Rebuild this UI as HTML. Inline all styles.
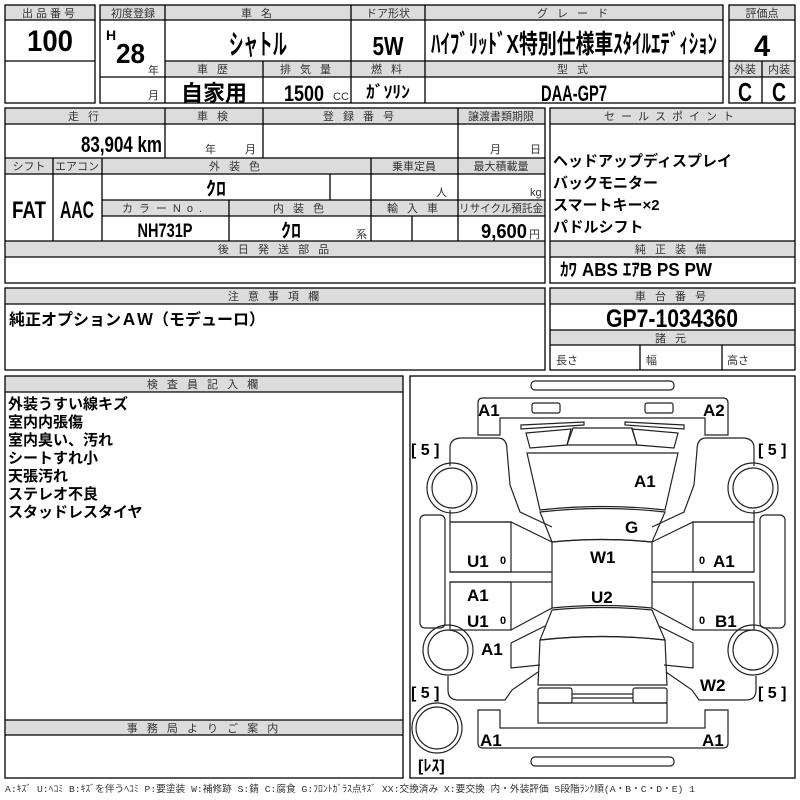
<!DOCTYPE html>
<html><head><meta charset="utf-8"><style>
html,body{margin:0;padding:0;background:#fff;width:800px;height:800px;overflow:hidden}
svg{display:block}
.h{fill:#dcdcdc}
.ht{font-family:"Liberation Sans","Noto Sans CJK JP",sans-serif;font-size:11px;fill:#333;text-anchor:middle;letter-spacing:3px}
.b{font-family:"Liberation Sans Narrow","Liberation Sans","Noto Sans CJK JP",sans-serif;font-weight:bold;fill:#000}
.j{font-family:"Liberation Sans","Noto Sans CJK JP",sans-serif;font-weight:bold;fill:#000}
.s{font-family:"Liberation Sans","Noto Sans CJK JP",sans-serif;font-size:11px;fill:#333}
.c{text-anchor:middle}
</style></head><body>
<svg width="800" height="800" viewBox="0 0 800 800" xmlns="http://www.w3.org/2000/svg">
<g stroke="none">
<rect class="h" x="5" y="5" width="90" height="15"/>
<rect class="h" x="100" y="5" width="623" height="15"/>
<rect class="h" x="165" y="61" width="558" height="16"/>
<rect class="h" x="729" y="5" width="66" height="15"/>
<rect class="h" x="729" y="61" width="66" height="16"/>
<rect class="h" x="5" y="108" width="540" height="16"/>
<rect class="h" x="5" y="158" width="540" height="16"/>
<rect class="h" x="102" y="200" width="443" height="16"/>
<rect class="h" x="5" y="241" width="540" height="16"/>
<rect class="h" x="550" y="108" width="245" height="16"/>
<rect class="h" x="550" y="241" width="245" height="16"/>
<rect class="h" x="5" y="288" width="540" height="16"/>
<rect class="h" x="550" y="288" width="245" height="16"/>
<rect class="h" x="550" y="330" width="245" height="15"/>
<rect class="h" x="5" y="376" width="398" height="16"/>
<rect class="h" x="5" y="720" width="398" height="15"/>
</g>
<g fill="none" stroke="#000" stroke-width="1.3">
<rect x="5" y="5" width="90" height="98"/>
<line x1="5" y1="20" x2="95" y2="20"/><line x1="5" y1="61" x2="95" y2="61"/>
<rect x="100" y="5" width="623" height="98"/>
<line x1="100" y1="20" x2="723" y2="20"/>
<line x1="165" y1="5" x2="165" y2="103"/><line x1="351" y1="5" x2="351" y2="103"/><line x1="425" y1="5" x2="425" y2="103"/>
<line x1="165" y1="61" x2="723" y2="61"/><line x1="165" y1="77" x2="723" y2="77"/><line x1="100" y1="77" x2="165" y2="77"/>
<line x1="263" y1="61" x2="263" y2="103"/>
<rect x="729" y="5" width="66" height="98"/>
<line x1="729" y1="20" x2="795" y2="20"/><line x1="729" y1="61" x2="795" y2="61"/><line x1="729" y1="77" x2="795" y2="77"/><line x1="762" y1="61" x2="762" y2="103"/>
<rect x="5" y="108" width="540" height="175"/>
<line x1="5" y1="124" x2="545" y2="124"/><line x1="5" y1="158" x2="545" y2="158"/><line x1="5" y1="174" x2="545" y2="174"/>
<line x1="102" y1="200" x2="545" y2="200"/><line x1="102" y1="216" x2="545" y2="216"/>
<line x1="5" y1="241" x2="545" y2="241"/><line x1="5" y1="257" x2="545" y2="257"/>
<line x1="165" y1="108" x2="165" y2="158"/><line x1="263" y1="108" x2="263" y2="158"/><line x1="458" y1="108" x2="458" y2="241"/>
<line x1="53" y1="158" x2="53" y2="241"/><line x1="102" y1="158" x2="102" y2="241"/><line x1="371" y1="158" x2="371" y2="241"/>
<line x1="330" y1="174" x2="330" y2="200"/><line x1="229" y1="200" x2="229" y2="241"/><line x1="412" y1="216" x2="412" y2="241"/>
<rect x="550" y="108" width="245" height="175"/>
<line x1="550" y1="124" x2="795" y2="124"/><line x1="550" y1="241" x2="795" y2="241"/><line x1="550" y1="257" x2="795" y2="257"/>
<rect x="5" y="288" width="540" height="82"/><line x1="5" y1="304" x2="545" y2="304"/>
<rect x="550" y="288" width="245" height="82"/>
<line x1="550" y1="304" x2="795" y2="304"/><line x1="550" y1="330" x2="795" y2="330"/><line x1="550" y1="345" x2="795" y2="345"/>
<line x1="640" y1="345" x2="640" y2="370"/><line x1="722" y1="345" x2="722" y2="370"/>
<rect x="5" y="376" width="398" height="402"/><line x1="5" y1="392" x2="403" y2="392"/>
<line x1="5" y1="720" x2="403" y2="720"/><line x1="5" y1="735" x2="403" y2="735"/>
<rect x="410" y="376" width="385" height="402"/>
</g>
<!-- headers -->
<text class="ht" x="50" y="17">出品番号</text>
<text class="ht" x="133" y="17" style="letter-spacing:0">初度登録</text>
<text class="ht" x="258" y="17">車 名</text>
<text class="ht" x="388" y="17" style="letter-spacing:0">ドア形状</text>
<text class="ht" x="574" y="17">グ レ ー ド</text>
<text class="ht" x="762" y="17" style="letter-spacing:0">評価点</text>
<text class="ht" x="214" y="73">車 歴</text>
<text class="ht" x="307" y="73">排 気 量</text>
<text class="ht" x="388" y="73">燃 料</text>
<text class="ht" x="574" y="73">型 式</text>
<text class="ht" x="745" y="73" style="letter-spacing:0">外装</text>
<text class="ht" x="779" y="73" style="letter-spacing:0">内装</text>
<text class="ht" x="85" y="120">走 行</text>
<text class="ht" x="214" y="120">車 検</text>
<text class="ht" x="360" y="120">登 録 番 号</text>
<text class="ht" x="501" y="120" style="letter-spacing:0">譲渡書類期限</text>
<text class="ht" x="29" y="170" style="letter-spacing:0">シフト</text>
<text class="ht" x="77" y="170" style="letter-spacing:0">エアコン</text>
<text class="ht" x="236" y="170">外 装 色</text>
<text class="ht" x="414" y="170" style="letter-spacing:0">乗車定員</text>
<text class="ht" x="501" y="170" style="letter-spacing:0">最大積載量</text>
<text class="ht" x="165" y="212" style="letter-spacing:6px">カラーNo.</text>
<text class="ht" x="300" y="212">内 装 色</text>
<text class="ht" x="414" y="212">輸 入 車</text>
<text class="ht" x="501" y="212" style="letter-spacing:0" textLength="84" lengthAdjust="spacingAndGlyphs">リサイクル預託金</text>
<text class="ht" x="275" y="253">後 日 発 送 部 品</text>
<text class="ht" x="672" y="120" style="letter-spacing:6px">セールスポイント</text>
<text class="ht" x="672" y="253">純 正 装 備</text>
<text class="ht" x="275" y="300">注 意 事 項 欄</text>
<text class="ht" x="672" y="300">車 台 番 号</text>
<text class="ht" x="672" y="342">諸 元</text>
<text class="ht" x="204" y="388">検 査 員 記 入 欄</text>
<text class="ht" x="204" y="732">事 務 局 よ り ご 案 内</text>
<!-- values -->
<text class="b c" x="50" y="51" font-size="30" textLength="46" lengthAdjust="spacingAndGlyphs">100</text>
<text class="b" x="106" y="40" font-size="14">H</text>
<text class="b" x="116" y="63" font-size="28" textLength="29" lengthAdjust="spacingAndGlyphs">28</text>
<text class="s" x="148" y="74">年</text><text class="s" x="148" y="99">月</text>
<text class="b c" x="258" y="54" font-size="28" textLength="58" lengthAdjust="spacingAndGlyphs">シャトル</text>
<text class="b c" x="388" y="55" font-size="26" textLength="31" lengthAdjust="spacingAndGlyphs">5W</text>
<text class="b" x="431" y="53" font-size="26" textLength="286" lengthAdjust="spacingAndGlyphs">ﾊｲﾌﾞﾘｯﾄﾞX特別仕様車ｽﾀｲﾙｴﾃﾞｨｼｮﾝ</text>
<text class="b c" x="762" y="56" font-size="30" textLength="16" lengthAdjust="spacingAndGlyphs">4</text>
<text class="j c" x="214" y="101" font-size="22">自家用</text>
<text class="b" x="284" y="101" font-size="22" textLength="40" lengthAdjust="spacingAndGlyphs">1500</text><text class="s" x="333" y="100">CC</text>
<text class="b c" x="388" y="98" font-size="17" textLength="44" lengthAdjust="spacingAndGlyphs">ｶﾞｿﾘﾝ</text>
<text class="b c" x="574" y="101" font-size="22" textLength="66" lengthAdjust="spacingAndGlyphs">DAA-GP7</text>
<text class="b c" x="745" y="101" font-size="26" textLength="14" lengthAdjust="spacingAndGlyphs">C</text><text class="b c" x="779" y="101" font-size="26" textLength="14" lengthAdjust="spacingAndGlyphs">C</text>
<text class="b" x="81" y="152" font-size="22" textLength="81" lengthAdjust="spacingAndGlyphs">83,904 km</text>
<text class="s" x="205" y="153">年</text><text class="s" x="245" y="153">月</text>
<text class="s" x="490" y="153">月</text><text class="s" x="530" y="153">日</text>
<text class="b c" x="29" y="218" font-size="24" textLength="34" lengthAdjust="spacingAndGlyphs">FAT</text>
<text class="b c" x="77" y="218" font-size="24" textLength="34" lengthAdjust="spacingAndGlyphs">AAC</text>
<text class="b c" x="216" y="195" font-size="19" textLength="20" lengthAdjust="spacingAndGlyphs">ｸﾛ</text>
<text class="s" x="436" y="196">人</text><text class="s" x="530" y="196">kg</text>
<text class="b c" x="165" y="237" font-size="19" textLength="55" lengthAdjust="spacingAndGlyphs">NH731P</text>
<text class="b c" x="291" y="237" font-size="19" textLength="20" lengthAdjust="spacingAndGlyphs">ｸﾛ</text>
<text class="s" x="356" y="238">系</text>
<text class="b" x="481" y="238" font-size="20" textLength="46" lengthAdjust="spacingAndGlyphs">9,600</text><text class="s" x="529" y="238">円</text>
<g class="j" font-size="15">
<text x="553" y="166">ヘッドアップディスプレイ</text>
<text x="553" y="188">バックモニター</text>
<text x="553" y="210">スマートキー×2</text>
<text x="553" y="232">パドルシフト</text>
</g>
<text class="b" x="560" y="276" font-size="18" textLength="152" lengthAdjust="spacingAndGlyphs">ｶﾜ ABS ｴｱB PS PW</text>
<text class="j" x="9" y="325" font-size="16">純正オプションＡＷ（モデューロ）</text>
<text class="b c" x="672" y="327" font-size="25" textLength="132" lengthAdjust="spacingAndGlyphs">GP7-1034360</text>
<text class="s" x="556" y="364">長さ</text><text class="s" x="646" y="364">幅</text><text class="s" x="727" y="364">高さ</text>
<g class="j" font-size="15">
<text x="8" y="409">外装うすい線キズ</text>
<text x="8" y="427">室内内張傷</text>
<text x="8" y="445">室内臭い、汚れ</text>
<text x="8" y="463">シートすれ小</text>
<text x="8" y="481">天張汚れ</text>
<text x="8" y="499">ステレオ不良</text>
<text x="8" y="517">スタッドレスタイヤ</text>
</g>
<!-- car diagram -->
<g fill="none" stroke="#222" stroke-width="1.2">
<rect x="531" y="381" width="143" height="9" rx="4"/>
<path d="M478,435 L478,403 Q478,398 483,398 L723,398 Q728,398 728,403 L728,435 L705,435 L705,418 L500,418 L500,435 Z"/>
<rect x="532" y="403" width="28" height="10" rx="2"/><rect x="645" y="403" width="28" height="10" rx="2"/>
<path d="M521,425 L584,422 L584,425 L521,429 Z"/><path d="M625,422 L684,425 L684,429 L625,425 Z"/>
<path d="M526,433 L571,429 L567,445 L530,448 Z"/><path d="M632,429 L678,433 L674,448 L637,445 Z"/>
<path d="M573,428 L632,428 L637,445 L567,445 Z"/>
<path d="M527,453 L678,453 L665,510 Q602,503 540,510 Z"/>
<path d="M540,512 Q602,505 665,512 L652,542 Q602,537 552,542 Z"/>
<path d="M552,542 Q602,537 652,542 L652,608 Q602,603 552,608 Z"/>
<path d="M552,610 Q602,605 652,610 L665,640 Q602,633 540,640 Z"/>
<path d="M540,640 Q602,633 665,640 L667,685 L538,685 Z"/>
<path d="M450,448 Q450,438 462,438 L498,438 Q507,438 507,450 L510,485 L520,512 L552,527"/>
<path d="M450,448 L450,466"/><path d="M450,510 L450,522"/>
<path d="M754,448 Q754,438 742,438 L706,438 Q697,438 697,450 L694,485 L684,512 L652,527"/>
<path d="M754,448 L754,466"/><path d="M754,510 L754,522"/>
<path d="M450,522 L511,522 L552,542"/><rect x="450" y="522" width="61" height="50"/>
<path d="M450,572 L552,572 M450,582 L552,582"/>
<rect x="450" y="582" width="61" height="48"/><path d="M511,630 L552,608"/>
<rect x="420" y="515" width="25" height="113" rx="5"/>
<path d="M754,522 L693,522 L652,542"/><rect x="693" y="522" width="61" height="50"/>
<path d="M754,572 L652,572 M754,582 L652,582"/>
<rect x="693" y="582" width="61" height="48"/><path d="M693,630 L652,608"/>
<rect x="760" y="515" width="25" height="113" rx="5"/>
<path d="M511,643 L545,626 M511,643 L511,668 L540,665"/>
<path d="M448,676 L448,690 Q448,700 458,700 L505,700 L512,690 L538,672"/>
<path d="M693,643 L659,626 M693,643 L693,668 L664,665"/>
<path d="M756,676 L756,690 Q756,700 746,700 L699,700 L692,690 L666,672"/>
<rect x="538" y="688" width="34" height="15" rx="2"/><rect x="633" y="688" width="34" height="15" rx="2"/>
<path d="M572,694 L633,694 M572,698 L633,698"/>
<rect x="538" y="703" width="129" height="20"/>
<path d="M478,710 L478,743 Q478,748 483,748 L723,748 Q728,748 728,743 L728,710 L705,710 L705,728 L500,728 L500,710 Z"/>
<rect x="531" y="757" width="143" height="9" rx="4"/>
<circle cx="452" cy="488" r="25"/><circle cx="452" cy="488" r="20"/>
<circle cx="753" cy="488" r="25"/><circle cx="753" cy="488" r="20"/>
<circle cx="448" cy="650" r="25"/><circle cx="448" cy="650" r="20"/>
<circle cx="753" cy="650" r="25"/><circle cx="753" cy="650" r="20"/>
<circle cx="437" cy="728" r="25"/><circle cx="437" cy="728" r="21"/>
</g>
<g class="b" font-size="17">
<text x="478" y="416">A1</text><text x="703" y="416">A2</text>
<text x="634" y="487">A1</text><text x="625" y="533">G</text>
<text x="467" y="567">U1</text><text x="590" y="563">W1</text><text x="713" y="567">A1</text>
<text x="467" y="601">A1</text><text x="591" y="603">U2</text>
<text x="467" y="627">U1</text><text x="715" y="627">B1</text>
<text x="481" y="655">A1</text><text x="700" y="691">W2</text>
<text x="480" y="746">A1</text><text x="702" y="746">A1</text>
</g>
<g class="b" font-size="11"><text x="500" y="564">0</text><text x="699" y="564">0</text><text x="500" y="624">0</text><text x="699" y="624">0</text></g>
<g class="b" font-size="16">
<text x="411" y="455" xml:space="preserve">[ 5 ]</text><text x="758" y="455" xml:space="preserve">[ 5 ]</text>
<text x="411" y="698" xml:space="preserve">[ 5 ]</text><text x="758" y="698" xml:space="preserve">[ 5 ]</text>
<text x="418" y="771">[ﾚｽ]</text>
</g>
<text x="5" y="792" font-family="Liberation Mono,'Noto Sans CJK JP',monospace" font-size="9.5" fill="#333" textLength="690" lengthAdjust="spacingAndGlyphs">A:ｷｽﾞ U:ﾍｺﾐ B:ｷｽﾞを伴うﾍｺﾐ P:要塗装 W:補修跡 S:錆 C:腐食 G:ﾌﾛﾝﾄｶﾞﾗｽ点ｷｽﾞ XX:交換済み X:要交換  内・外装評価  5段階ﾗﾝｸ順(A・B・C・D・E) 1</text>
</svg>
</body></html>
